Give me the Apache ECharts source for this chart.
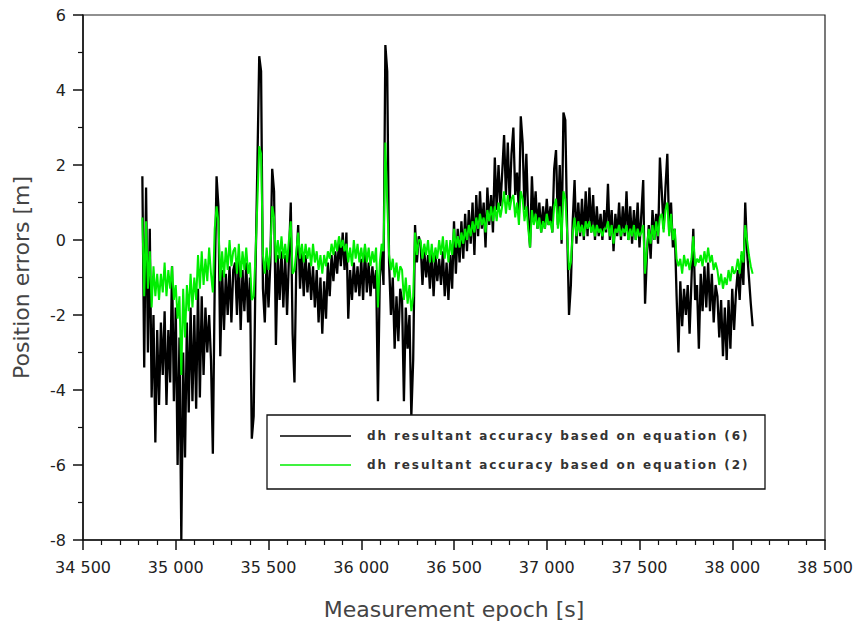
<!DOCTYPE html>
<html>
<head>
<meta charset="utf-8">
<script src="https://cdn.jsdelivr.net/npm/echarts@6/dist/echarts.min.js"></script>
<style>
  html, body { margin: 0; padding: 0; background: #fff; }
  #chart { width: 863px; height: 628px; }
</style>
</head>
<body>
<div id="chart"></div>
<script>
// Measurement epochs: one sample every 10 s from 34 820 s to 38 110 s
const EPOCH_START = 34820;
const EPOCH_STEP = 10;

// dh resultant accuracy based on equation (6) [m]
const dhEq6 = [
  1.7, -3.4, 1.4, -3.0, 0.3, -4.2, -2.0, -5.4, -2.4, -4.4,
  -2.2, -3.6, -1.9, -4.4, -2.4, -3.8, -0.7, -4.3, -1.8, -6.0,
  -2.6, -8.0, -3.0, -5.8, -2.2, -4.6, -1.8, -4.3, -2.0, -4.5,
  -1.3, -4.2, -1.5, -3.6, -1.8, -3.0, -2.0, -3.2, -5.7, -1.2,
  1.7, 0.9, -3.1, -0.8, -2.4, -0.9, -2.0, -0.7, -2.2, -0.8,
  -0.6, -2.0, -0.5, -2.4, -0.8, -1.9, -0.6, -2.2, -1.0, -5.3,
  -4.7, -0.8, 2.0, 4.9, 4.5, -1.3, -2.2, -0.5, -1.8, -0.6,
  1.9, 1.3, -2.8, -0.4, -1.6, -0.3, -1.8, -0.4, -2.0, -0.5,
  1.0, -2.5, -3.8, -0.6, 0.4, -1.3, -0.3, -1.5, -0.4, -1.4,
  -0.6, -1.6, -0.7, -1.8, -0.8, -2.2, -1.0, -2.5, -1.1, -2.1,
  -0.6, -1.5, -0.4, -1.1, -0.3, -0.9, 0.0, -0.7, 0.2, -0.8,
  0.2, -2.1, -0.8, -1.6, -0.6, -1.4, -0.7, -1.5, -0.5, -1.6,
  -0.2, -1.4, -0.6, -1.5, -0.7, -1.3, -0.8, -4.3, -1.0, -0.3,
  -1.2, 5.2, 4.5, -0.6, -2.0, -1.0, -2.9, -1.5, -2.7, -1.3,
  -1.6, -4.3, -1.8, -2.9, -2.0, -4.7, -3.2, 0.4, -0.6, 0.1,
  -0.1, -1.2, -0.3, -1.0, -0.4, -1.3, -0.3, -1.5, -0.4, -1.1,
  -0.5, -1.2, -0.3, -1.5, -0.6, -1.6, -0.4, -1.3, 0.5, -0.9,
  0.3, -0.6, 0.5, -0.5, 0.7, -0.3, 0.8, -0.1, 1.0, -0.4,
  1.2, 0.1, 1.3, 0.3, 1.0, -0.2, 1.4, 0.4, 1.2, 0.2,
  2.2, 0.8, 2.0, 0.9, 1.8, 2.8, 1.2, 2.6, 1.0, 2.3,
  3.0, 1.2, 1.8, 0.7, 3.3, 2.6, 0.8, 2.3, 0.6, -0.2,
  1.7, 0.5, 1.3, 0.3, 1.0, 0.2, 0.9, 0.3, 1.1, 0.4,
  0.9, 0.2, 1.9, 2.4, 0.4, 2.0, -0.1, 3.4, 3.2, 0.3,
  -2.0, -1.2, 0.5, 1.6, -0.1, 1.0, 0.1, 1.1, 0.0, 1.3,
  0.1, 1.4, 0.2, 1.2, 0.0, 0.9, 0.1, 0.7, 0.0, 0.8,
  0.2, 1.5, 0.0, 0.8, -0.3, 0.7, 0.1, 1.0, 0.0, 0.9,
  0.1, 1.3, 0.0, 0.9, -0.1, 0.8, 0.0, 1.0, -0.2, 0.7,
  1.6, -1.7, -0.4, 0.4, -0.5, 0.8, 0.0, 0.7, -0.1, 2.2,
  1.3, 0.3, 1.4, 2.3, 0.2, 1.0, -0.2, 0.3, -1.5, -3.0,
  -1.1, -2.3, -1.3, -2.0, -1.2, -2.5, -1.1, 0.3, -1.6, -1.2,
  -2.9, -0.9, -1.9, -0.7, -1.8, -0.6, -1.9, -0.9, -2.2, -1.2,
  -1.5, -2.6, -1.6, -3.1, -1.8, -3.2, -1.6, -2.9, -1.3, -2.4,
  -1.4, -0.8, -1.6, -0.4, -1.2, 1.0, -0.3, -1.0, -1.7, -2.3
];

// dh resultant accuracy based on equation (2) [m]
const dhEq2 = [
  0.6, -1.5, 0.5, -1.3, -0.3, -1.8, -0.7, -1.5, -0.9, -1.6,
  -0.9, -1.4, -0.6, -1.5, -0.8, -1.3, -0.7, -1.6, -1.2, -2.1,
  -1.5, -3.6, -1.3, -2.6, -1.2, -1.9, -0.9, -1.8, -1.0, -1.6,
  -0.4, -1.3, -0.3, -1.2, -0.5, -1.1, -0.2, -0.9, -1.4, 0.3,
  0.9, 0.5, -1.1, -0.3, -1.0, -0.2, -0.8, 0.0, -0.7, -0.3,
  -0.2, -0.9, -0.1, -1.0, -0.3, -0.8, -0.2, -0.9, -0.6, -1.6,
  -1.5, -0.4, 1.0, 2.5, 2.3, -0.4, -0.9, -0.2, -0.8, -0.3,
  0.9, 0.6, -0.6, 0.0, -0.5, 0.1, -0.5, -0.1, -0.6, 0.0,
  0.5, -0.9, -0.8, -0.3, 0.2, -0.5, -0.1, -0.6, -0.1, -0.5,
  -0.2, -0.7, -0.1, -0.6, -0.3, -0.8, -0.4, -0.9, -0.4, -0.7,
  -0.3, -0.5, -0.1, -0.4, 0.0, -0.3, 0.1, -0.2, 0.0, -0.3,
  -0.1, -0.6, -0.2, -0.7, 0.0, -0.5, -0.1, -0.6, -0.2, -0.6,
  -0.1, -0.6, -0.2, -0.7, -0.3, -0.6, -0.2, -1.8, -0.6, -0.1,
  -0.3, 2.6, 1.0, -0.4, -0.8, -0.5, -1.0, -0.6, -1.1, -0.7,
  -0.8, -1.6, -1.0, -1.7, -1.2, -1.9, -1.5, 0.2, -0.4, 0.0,
  0.0, -0.5, -0.1, -0.4, 0.0, -0.6, -0.1, -0.6, -0.2, -0.5,
  0.0, -0.4, 0.1, -0.5, 0.0, -0.6, 0.0, -0.4, 0.3, -0.2,
  0.1, -0.2, 0.2, -0.1, 0.3, 0.0, 0.4, 0.1, 0.5, 0.2,
  0.6, 0.3, 0.7, 0.4, 0.6, 0.2, 0.8, 0.5, 0.9, 0.5,
  0.9, 0.5, 1.0, 0.6, 0.9, 1.3, 0.7, 1.2, 0.8, 1.1,
  1.2, 0.6, 1.0, 0.4, 1.3, 1.1, 0.5, 0.9, 0.3, -0.2,
  0.8, 0.4, 0.7, 0.3, 0.6, 0.2, 0.5, 0.3, 0.7, 0.4,
  0.5, 0.2, 0.9, 1.1, 0.3, 0.9, 0.0, 1.3, 1.1, 0.2,
  -0.8, -0.6, 0.2, 0.6, 0.1, 0.5, 0.2, 0.4, 0.1, 0.5,
  0.3, 0.5, 0.2, 0.4, 0.1, 0.4, 0.2, 0.3, 0.1, 0.3,
  0.3, 0.5, 0.1, 0.4, -0.1, 0.3, 0.2, 0.4, 0.1, 0.3,
  0.2, 0.4, 0.0, 0.3, 0.1, 0.4, 0.0, 0.3, 0.1, 0.2,
  0.4, -0.9, -0.2, 0.3, -0.1, 0.4, 0.0, 0.5, 0.1, 0.6,
  0.7, 0.2, 0.8, 1.0, 0.1, 0.7, 0.0, 0.3, -0.5, -0.7,
  -0.5, -0.9, -0.4, -0.7, -0.5, -0.8, -0.5, 0.1, -0.7, -0.5,
  -0.6, -0.4, -0.7, -0.3, -0.6, -0.2, -0.6, -0.4, -0.8, -0.6,
  -0.8, -1.2, -0.9, -1.3, -1.0, -1.2, -0.8, -1.1, -0.7, -0.9,
  -0.8, -0.5, -0.9, -0.3, -0.6, 0.4, 0.0, -0.4, -0.7, -0.9
];

const seriesNames = [
  'dh resultant accuracy based on equation (6)',
  'dh resultant accuracy based on equation (2)'
];

const epochs = dhEq6.map((_, i) => EPOCH_START + i * EPOCH_STEP);
const pairs = (vals) => vals.map((v, i) => [epochs[i], v]);

// "34500" -> "34 500"
const spaced = (v) => String(v).replace(/\B(?=(\d{3})+(?!\d))/g, ' ');

const FONT = 'DejaVu Sans';
const BLACK = '#000000';
const GREEN = '#00ee00';
const LEGEND_BAR = 'path://M0,6.5 L71,6.5 L71,8 L0,8 Z';

const chart = echarts.init(document.getElementById('chart'), null, { renderer: 'svg' });

chart.setOption({
  animation: false,
  backgroundColor: '#ffffff',
  grid: {
    left: 83, right: 38, top: 15, bottom: 88,
    show: true, borderColor: '#222', borderWidth: 1.2, backgroundColor: 'transparent'
  },
  xAxis: {
    type: 'value',
    min: 34500, max: 38500, interval: 500,
    name: 'Measurement epoch [s]',
    nameLocation: 'middle',
    nameGap: 58,
    nameTextStyle: { fontFamily: FONT, fontSize: 22, color: '#444' },
    axisLine: { onZero: false, lineStyle: { color: '#111', width: 1.5 } },
    axisTick: { show: true, inside: false, length: 10, lineStyle: { color: '#111', width: 1.5 } },
    minorTick: { show: true, splitNumber: 5, length: 5, lineStyle: { color: '#111', width: 1.2 } },
    splitLine: { show: false },
    axisLabel: { margin: 19, fontFamily: FONT, fontSize: 16, color: '#222', formatter: spaced }
  },
  yAxis: {
    type: 'value',
    min: -8, max: 6, interval: 2,
    name: 'Position errors [m]',
    nameLocation: 'middle',
    nameGap: 51,
    nameRotate: 90,
    nameTextStyle: { fontFamily: FONT, fontSize: 22, color: '#444' },
    axisLine: { show: true, onZero: false, lineStyle: { color: '#111', width: 1.5 } },
    axisTick: { show: true, inside: false, length: 10, lineStyle: { color: '#111', width: 1.5 } },
    minorTick: { show: true, splitNumber: 2, length: 5, lineStyle: { color: '#111', width: 1.2 } },
    splitLine: { show: false },
    axisLabel: { margin: 17, fontFamily: FONT, fontSize: 16, color: '#222' }
  },
  legend: {
    orient: 'vertical',
    left: 280, top: 430,
    padding: 0,
    itemGap: 17,
    itemWidth: 71,
    itemHeight: 14,
    selectedMode: false,
    data: [
      { name: seriesNames[0], icon: LEGEND_BAR, itemStyle: { color: BLACK } },
      { name: seriesNames[1], icon: LEGEND_BAR, itemStyle: { color: GREEN } }
    ],
    textStyle: { fontFamily: FONT, fontWeight: 'bold', fontSize: 12, color: '#333', padding: [0, 0, 0, 11] }
  },
  graphic: [{
    type: 'rect',
    z: 3,
    shape: { x: 267, y: 415, width: 498, height: 74 },
    style: { fill: '#ffffff', stroke: '#111', lineWidth: 1.3 }
  }],
  series: [
    {
      name: seriesNames[0],
      type: 'line',
      data: pairs(dhEq6),
      symbol: 'none',
      lineStyle: { color: BLACK, width: 2.3, join: 'bevel' },
      itemStyle: { color: BLACK },
      z: 1
    },
    {
      name: seriesNames[1],
      type: 'line',
      data: pairs(dhEq2),
      symbol: 'none',
      lineStyle: { color: GREEN, width: 2.0, join: 'bevel' },
      itemStyle: { color: GREEN },
      z: 2
    }
  ]
});

// Legend entries are set with wide letter tracking
function trackLegendText() {
  document.querySelectorAll('#chart text').forEach((t) => {
    if (t.textContent.indexOf('equation') >= 0) {
      t.style.letterSpacing = '1.9px';
    }
  });
}
trackLegendText();
chart.on('finished', trackLegendText);
</script>
</body>
</html>
